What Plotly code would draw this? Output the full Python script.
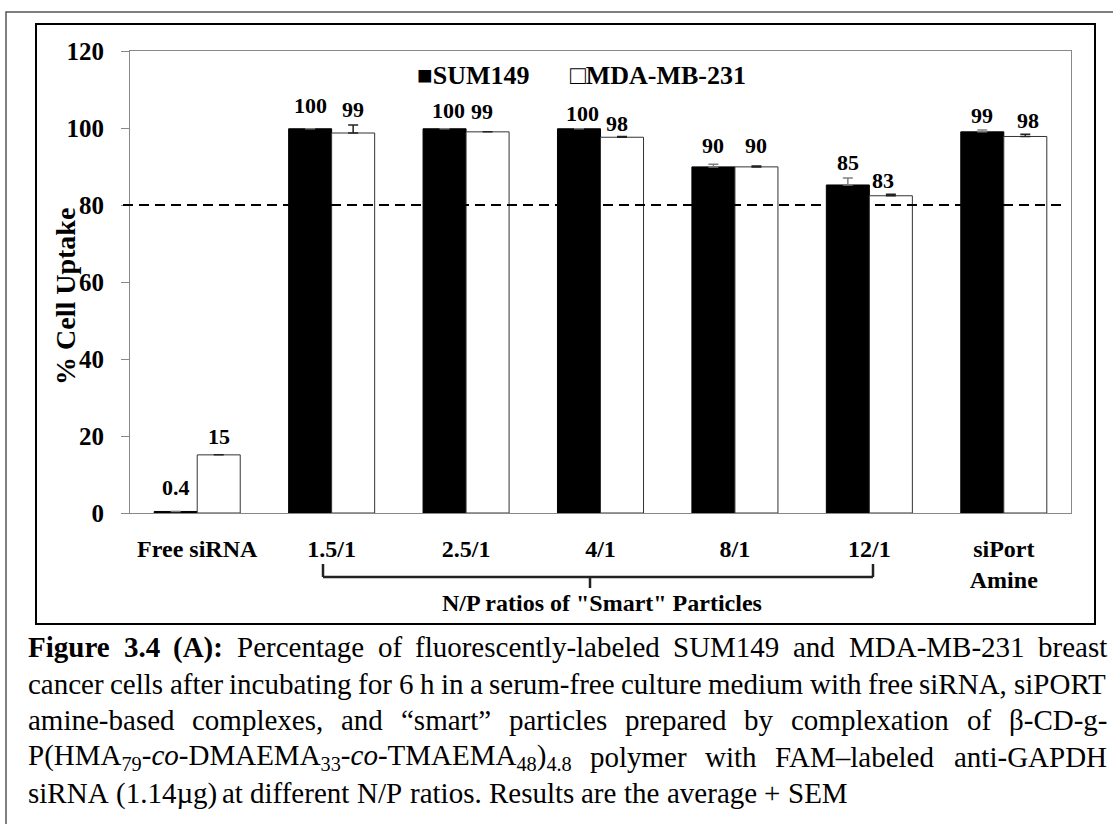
import plotly.graph_objects as go

# ---------------- data ----------------
categories = ["Free siRNA", "1.5/1", "2.5/1", "4/1", "8/1", "12/1", "siPort Amine"]
tick_labels = ["Free siRNA", "1.5/1", "2.5/1", "4/1", "8/1", "12/1", "siPort<br>Amine"]
sum149 = [0.4, 99.8, 99.8, 99.8, 89.9, 85.2, 99.0]
mda231 = [15.1, 98.7, 99.0, 97.6, 89.9, 82.4, 97.8]
sum149_sem = [None, None, None, None, 0.7, 1.8, 0.5]
mda231_sem = [None, 2.1, None, 0.2, 0.2, 0.4, 0.6]
sum149_labels = ["0.4", "100", "100", "100", "90", "85", "99"]
mda231_labels = ["15", "99", "99", "98", "90", "83", "98"]
threshold = 80
y_ticks = [0, 20, 40, 60, 80, 100, 120]

# label placement (pixels above bar top, x nudges)
sum_lab_dy = [23.5, 23, 18, 15, 21.5, 22.5, 16]
mda_lab_dy = [18, 24, 20, 14, 21, 15.5, 16]
sum_lab_dx = [0, 0, 3.5, 3, 0, 0, 0]
mda_lab_dx = [0, 0, -5.5, -5, 0, -8, 3]

FONT = "Liberation Serif, Times New Roman, serif"
W, H = 1113, 824
L, R, T, B = 130, 42, 51, 311
PW, PH = W - L - R, H - T - B


def px(x):
    return (x - L) / PW


def py(y):
    return (H - B - y) / PH


fig = go.Figure()
fig.add_trace(go.Bar(
    x=categories, y=sum149, name="SUM149",
    marker=dict(color="black", line=dict(color="black", width=1)),
    error_y=dict(type="data", array=sum149_sem, symmetric=False,
                 arrayminus=[None] * len(sum149), color="#808080",
                 thickness=1.5, width=5),
))
fig.add_trace(go.Bar(
    x=categories, y=mda231, name="MDA-MB-231",
    marker=dict(color="white", line=dict(color="#333333", width=1)),
    error_y=dict(type="data", array=mda231_sem, symmetric=False,
                 arrayminus=[None] * len(mda231), color="#222222",
                 thickness=1.5, width=5),
))

annotations = []
# value labels
for i, c in enumerate(categories):
    annotations.append(dict(x=c, y=sum149[i], xref="x", yref="y", text="<b>%s</b>" % sum149_labels[i],
                            showarrow=False, xanchor="center", yanchor="middle",
                            xshift=-21.5 + sum_lab_dx[i], yshift=sum_lab_dy[i],
                            font=dict(family=FONT, size=22, color="black")))
    annotations.append(dict(x=c, y=mda231[i], xref="x", yref="y", text="<b>%s</b>" % mda231_labels[i],
                            showarrow=False, xanchor="center", yanchor="middle",
                            xshift=21.5 + mda_lab_dx[i], yshift=mda_lab_dy[i],
                            font=dict(family=FONT, size=22, color="black")))

# legend
annotations.append(dict(x=px(416), y=py(75), xref="paper", yref="paper", xanchor="left", yanchor="middle",
                        text="<b>■SUM149</b>", showarrow=False, borderpad=0,
                        font=dict(family=FONT, size=26, color="black")))
annotations.append(dict(x=px(569), y=py(75), xref="paper", yref="paper", xanchor="left", yanchor="middle",
                        text="<b>□MDA-MB-231</b>", showarrow=False, borderpad=0,
                        font=dict(family=FONT, size=26, color="black")))

# y title
annotations.append(dict(x=px(65), y=py(297), xref="paper", yref="paper", xanchor="center", yanchor="middle",
                        text="<b>% Cell Uptake</b>", textangle=-90, showarrow=False,
                        font=dict(family=FONT, size=28, color="black")))

# bracket label
annotations.append(dict(x=px(602), y=py(603), xref="paper", yref="paper", xanchor="center", yanchor="middle",
                        text='<b>N/P ratios of "Smart" Particles</b>', showarrow=False,
                        font=dict(family=FONT, size=24, color="black")))

# ---------------- caption (justified) ----------------
REG = {' ': 250, '!': 333, '"': 408, '(': 333, ')': 333, '+': 564, ',': 250, '-': 333, '.': 250, '/': 278,
       ':': 278, '–': 500, '“': 444, '”': 444, 'β': 500, 'µ': 500,
       'A': 722, 'B': 667, 'C': 667, 'D': 722, 'E': 611, 'F': 556, 'G': 722, 'H': 722, 'I': 333, 'J': 389,
       'K': 722, 'L': 611, 'M': 889, 'N': 722, 'O': 722, 'P': 556, 'Q': 722, 'R': 667, 'S': 556, 'T': 611,
       'U': 722, 'V': 722, 'W': 944, 'X': 722, 'Y': 722, 'Z': 611,
       'a': 444, 'b': 500, 'c': 444, 'd': 500, 'e': 444, 'f': 333, 'g': 500, 'h': 500, 'i': 278, 'j': 278,
       'k': 500, 'l': 278, 'm': 778, 'n': 500, 'o': 500, 'p': 500, 'q': 500, 'r': 333, 's': 389, 't': 278,
       'u': 500, 'v': 500, 'w': 722, 'x': 500, 'y': 500, 'z': 444}
BOLD = dict(REG)
BOLD.update({'F': 611, 'u': 556, 'r': 444, 'A': 722, ':': 333})
for d in '0123456789':
    REG[d] = 500
    BOLD[d] = 500

CAP_FS = 29
CAP_LEFT, CAP_RIGHT = 27, 1106


def seg_width(text, style):
    tab = BOLD if style == "b" else REG
    w = sum(tab.get(ch, 500) for ch in text)
    if style == "sub":
        w *= 0.7
    return w * CAP_FS / 1000.0


def seg_html(text, style):
    if style == "b":
        return "<b>%s</b>" % text
    if style == "i":
        return "<i>%s</i>" % text
    if style == "sub":
        return "<sub>%s</sub>" % text
    return text


def add_line(words, yc, justify=True):
    widths = [sum(seg_width(t, s) for t, s in w) for w in words]
    total = sum(widths)
    gap = (CAP_RIGHT - CAP_LEFT - total) / (len(words) - 1) if justify else 250 * CAP_FS / 1000.0
    x = CAP_LEFT
    for w, wd in zip(words, widths):
        annotations.append(dict(x=px(x), y=py(yc), xref="paper", yref="paper", xanchor="left",
                                yanchor="middle", showarrow=False, borderpad=0,
                                text="".join(seg_html(t, s) for t, s in w),
                                font=dict(family=FONT, size=CAP_FS, color="black")))
        x += wd + gap


def plain(s):
    return [[(w, "r")] for w in s.split(" ")]


line1 = [[("Figure", "b")], [("3.4", "b")], [("(A):", "b")]] + plain(
    "Percentage of fluorescently-labeled SUM149 and MDA-MB-231 breast")
line2 = plain("cancer cells after incubating for 6 h in a serum-free culture medium with free siRNA, siPORT")
line3 = plain("amine-based complexes, and “smart” particles prepared by complexation of β-CD-g-")
line4 = [[("P(HMA", "r"), ("79", "sub"), ("-", "r"), ("co", "i"), ("-DMAEMA", "r"), ("33", "sub"),
          ("-", "r"), ("co", "i"), ("-TMAEMA", "r"), ("48", "sub"), (")", "r"), ("4.8", "sub")]] + plain(
    "polymer with FAM–labeled anti-GAPDH")
line5 = plain("siRNA (1.14µg) at different N/P ratios. Results are the average + SEM")

cap_y = [647, 683.5, 720, 756.5, 793]
add_line(line1, cap_y[0])
add_line(line2, cap_y[1])
add_line(line3, cap_y[2])
add_line(line4, cap_y[3])
add_line(line5, cap_y[4], justify=False)

# ---------------- shapes ----------------
shapes = [
    # 80 % threshold line
    dict(type="line", xref="paper", yref="y", x0=px(123), x1=px(1063), y0=threshold, y1=threshold,
         line=dict(color="black", width=2, dash="10px,6px")),
    # bracket
    dict(type="line", xref="paper", yref="paper", x0=px(323), x1=px(873), y0=py(577), y1=py(577),
         line=dict(color="#222222", width=2.5)),
    dict(type="line", xref="paper", yref="paper", x0=px(323), x1=px(323), y0=py(564), y1=py(577),
         line=dict(color="#222222", width=2.5)),
    dict(type="line", xref="paper", yref="paper", x0=px(873), x1=px(873), y0=py(564), y1=py(577),
         line=dict(color="#222222", width=2.5)),
    dict(type="line", xref="paper", yref="paper", x0=px(590), x1=px(590), y0=py(577), y1=py(588),
         line=dict(color="#222222", width=2.5)),
    # chart frame
    dict(type="rect", xref="paper", yref="paper", x0=px(36), x1=px(1095), y0=py(624), y1=py(24),
         line=dict(color="black", width=2), fillcolor="rgba(0,0,0,0)", layer="below"),
    # outer thin frame
    dict(type="rect", xref="paper", yref="paper", x0=px(6), x1=px(1130), y0=py(840), y1=py(12),
         line=dict(color="#555555", width=1.5), fillcolor="rgba(0,0,0,0)", layer="below"),
]

fig.update_layout(
    width=W, height=H,
    margin=dict(l=L, r=R, t=T, b=B, pad=0),
    paper_bgcolor="white", plot_bgcolor="white",
    barmode="group", bargap=0.36, bargroupgap=0,
    showlegend=False,
    font=dict(family=FONT, color="black"),
    annotations=annotations, shapes=shapes,
)
fig.update_xaxes(
    type="category", tickmode="array", tickvals=categories, ticktext=["<b>%s</b>" % t for t in tick_labels],
    tickfont=dict(family=FONT, size=24, color="black"),
    showline=True, linecolor="#888888", linewidth=1, mirror=True,
    ticks="", showgrid=False, zeroline=False, ticklabelstandoff=14,
)
fig.update_yaxes(
    range=[0, 120], tickmode="array", tickvals=y_ticks, ticktext=["<b>%d</b>" % v for v in y_ticks],
    tickfont=dict(family=FONT, size=25, color="black"),
    showline=True, linecolor="#888888", linewidth=1, mirror=True,
    ticks="outside", ticklen=8, tickcolor="#888888", tickwidth=1,
    showgrid=False, zeroline=False, ticklabelstandoff=12,
)

fig.write_html("out.html")
